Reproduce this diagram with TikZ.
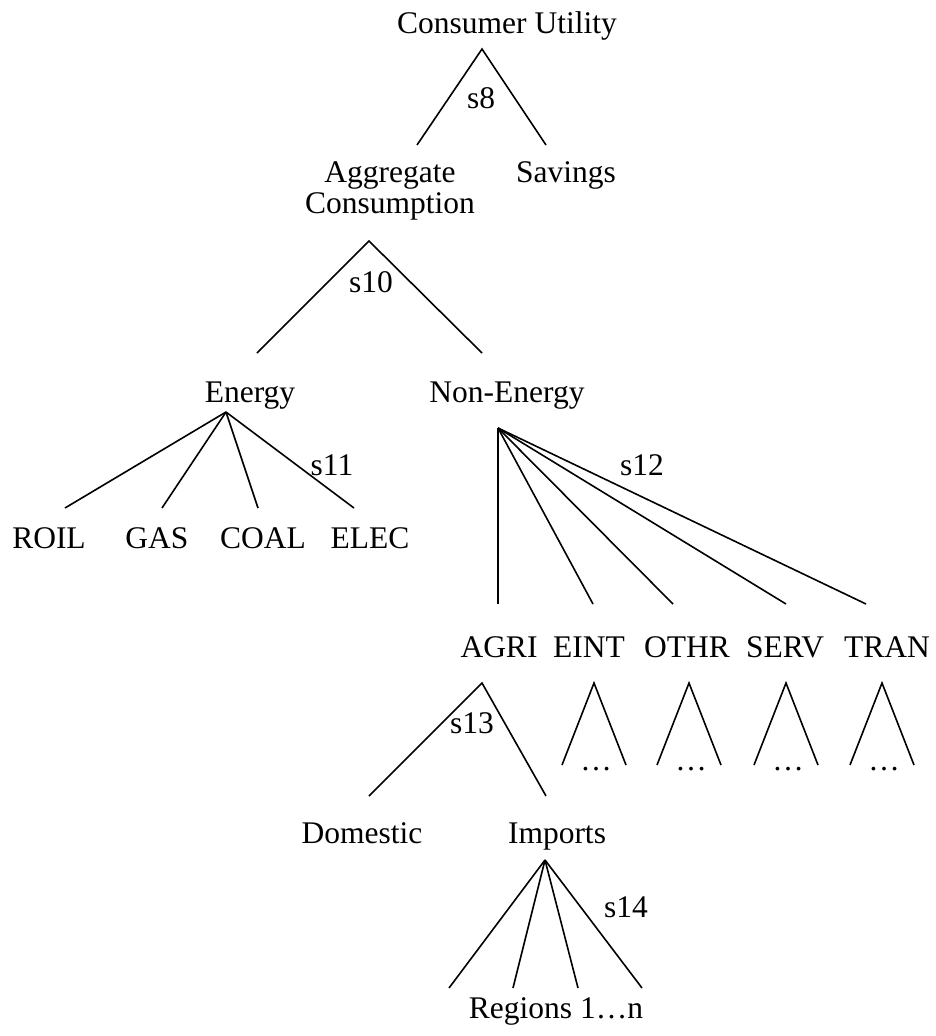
\documentclass[tikz,border=0pt]{standalone}
\usepackage{fontspec}
\setmainfont{Liberation Serif}
\begin{document}
\begin{tikzpicture}[x=1pt,y=-1pt,line width=1.6pt,
	every node/.style={font=\fontsize{31.5}{31}\selectfont,inner sep=0pt,anchor=base}]
	\useasboundingbox (0,0) rectangle (936,1036);
	\node (cu) at (507,33) {Consumer Utility};
	\node (s8) at (481,108) {s8};
	\node[align=center] (agg) at (390,213) {Aggregate\\Consumption};
	\node (sav) at (566,182) {Savings};
	\node (s10) at (371,292) {s10};
	\node (en) at (250,402) {Energy};
	\node (nonen) at (507,402) {Non-Energy};
	\node (s11) at (332,475) {s11};
	\node (s12) at (642,475) {s12};
	\node (roil) at (49,548) {ROIL};
	\node (gas) at (157,548) {GAS};
	\node (coal) at (263,548) {COAL};
	\node (elec) at (370,548) {ELEC};
	\node (agri) at (499,657) {AGRI};
	\node (eint) at (589,657) {EINT};
	\node (othr) at (687,657) {OTHR};
	\node (serv) at (785,657) {SERV};
	\node (tran) at (887,657) {TRAN};
	\node (s13) at (472,733) {s13};
	\node (dom) at (362,843) {Domestic};
	\node (imp) at (557,843) {Imports};
	\node (s14) at (626,917) {s14};
	\node (reg) at (556,1018) {Regions 1…n};

	\coordinate (cu-top) at (482,49);
	\coordinate (agg-in) at (417,145);
	\coordinate (sav-in) at (546,145);
	\draw (agg-in) -- (cu-top) -- (sav-in);

	\coordinate (agg-top) at (369,241);
	\coordinate (en-in) at (257,353);
	\coordinate (nonen-in) at (482,353);
	\draw (en-in) -- (agg-top) -- (nonen-in);

	\coordinate (en-top) at (226,412);
	\foreach \n/\x in {roil/65,gas/162,coal/258,elec/354}
		\draw (en-top) -- (\x,508) coordinate (\n-in);

	\coordinate (nonen-top) at (498,428);
	\foreach \n/\x in {agri/498,eint/593,othr/673,serv/786,tran/866}
		\draw (nonen-top) -- (\x,604) coordinate (\n-in);

	\coordinate (agri-top) at (482,683);
	\coordinate (dom-in) at (369,796);
	\coordinate (imp-in) at (546,796);
	\draw (dom-in) -- (agri-top) -- (imp-in);

	\foreach \n/\x in {eint/594,othr/689,serv/786,tran/882}{
		\coordinate (\n-top) at (\x,683);
		\draw (\x-32,765) coordinate (\n-l) -- (\n-top) -- (\x+32,765) coordinate (\n-r);
		\node (\n-more) at (\x+2,770) {…};
	}

	\coordinate (imp-top) at (545,860);
	\foreach \x [count=\i] in {449,513,578,642}
		\draw (imp-top) -- (\x,988) coordinate (reg-in\i);
\end{tikzpicture}
\end{document}
